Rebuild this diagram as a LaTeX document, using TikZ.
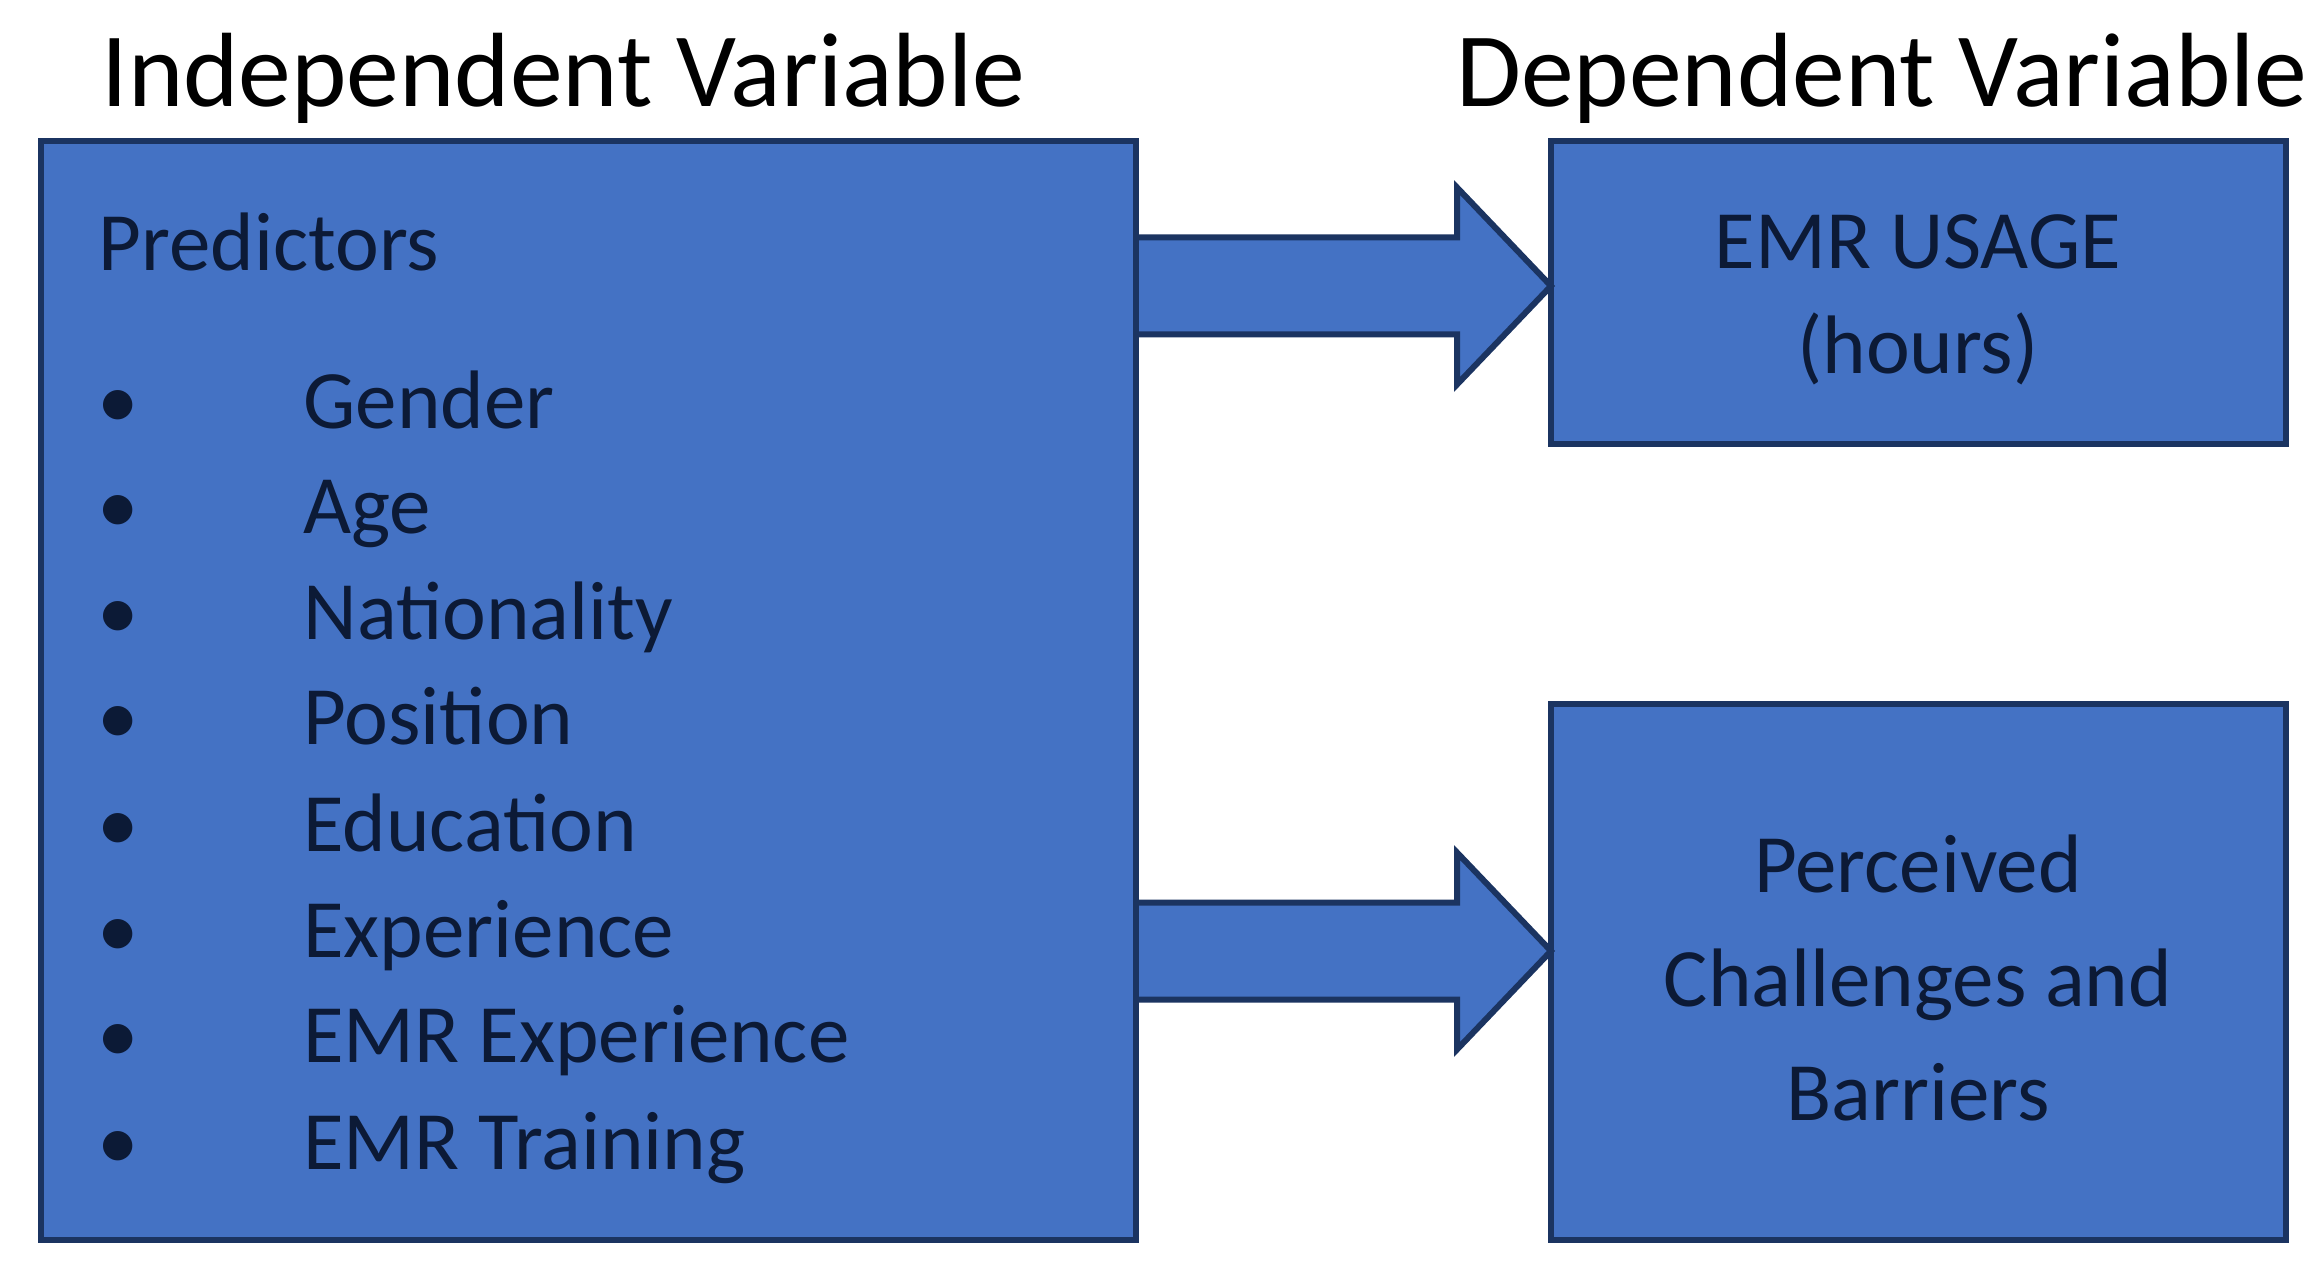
\documentclass[tikz,border=0pt]{standalone}
\usepackage{fontspec}
\setmainfont{Carlito}
\usetikzlibrary{calc}
\definecolor{boxblue}{HTML}{4472C4}
\definecolor{boxline}{HTML}{1B3461}
\definecolor{boxtext}{HTML}{0C1A36}
\tikzset{
  panel/.style={draw=boxline, fill=boxblue, line width=3pt, rectangle, inner sep=0pt, outer sep=0pt},
  bigarrow/.style={draw=boxline, fill=boxblue, line width=3pt, line join=miter},
  titletxt/.style={font=\fontsize{52.8}{62}\selectfont, text=black, inner sep=0pt},
  boxtxt/.style={font=\fontsize{41.5}{50}\selectfont, text=boxtext, inner sep=0pt},
}
\begin{document}
\begin{tikzpicture}[x=0.5pt,y=-0.5pt]
\useasboundingbox (0,0) rectangle (2320,1273);
\fill[white] (0,0) rectangle (2320,1273);

% titles
\node[titletxt, anchor=base west] (tind) at (101,107) {Independent Variable};
\node[titletxt, anchor=base east] (tdep) at (2308,107) {Dependent Variable};

% boxes (placed first for anchors)
\node[panel, anchor=north west, minimum width=547.5pt, minimum height=549.5pt] (left) at (41,141) {};
\node[panel, anchor=north west, minimum width=367.5pt, minimum height=151.5pt] (top) at (1551,141) {};
\node[panel, anchor=north west, minimum width=367.5pt, minimum height=268pt] (bot) at (1551,704) {};

% arrows
\coordinate (tip1) at ($(top.west)+(0,-6.5)$);
\coordinate (tip2) at ($(bot.west)+(0,-21)$);
\foreach \t in {tip1,tip2}{
  \draw[bigarrow] ($(left.east |- \t)+(0,-48.5)$) -- ($(\t)+(-94,-48.5)$) -- ($(\t)+(-94,-98.5)$) -- (\t)
    -- ($(\t)+(-94,98.5)$) -- ($(\t)+(-94,48.5)$) -- ($(left.east |- \t)+(0,48.5)$);
}
% redraw box borders on top
\draw[boxline, line width=3pt] (left.north east) -- (left.south east);
\draw[boxline, line width=3pt] (top.north west) -- (top.south west);
\draw[boxline, line width=3pt] (bot.north west) -- (bot.south west);

% left box contents
\node[boxtxt, anchor=base west] (pred) at (98,271) {Predictors};
\foreach \y/\txt [count=\i] in {429/Gender,533/Age,639/Nationality,744/Position,851/Education,957/Experience,1062/EMR Experience,1169/EMR Training}{
  \node[boxtxt, anchor=base] (b\i) at (118,\y) {•};
  \node[boxtxt, anchor=base west] (it\i) at (303,\y) {\txt};
}

% right boxes text
\node[boxtxt, anchor=base] (u1) at (1918,269) {EMR USAGE};
\node[boxtxt, anchor=base] (u2) at (1918,373) {(hours)};
\node[boxtxt, anchor=base] (p1) at (1918,892) {Perceived};
\node[boxtxt, anchor=base] (p2) at (1918,1006) {Challenges and};
\node[boxtxt, anchor=base] (p3) at (1918,1120) {Barriers};
\end{tikzpicture}
\end{document}
